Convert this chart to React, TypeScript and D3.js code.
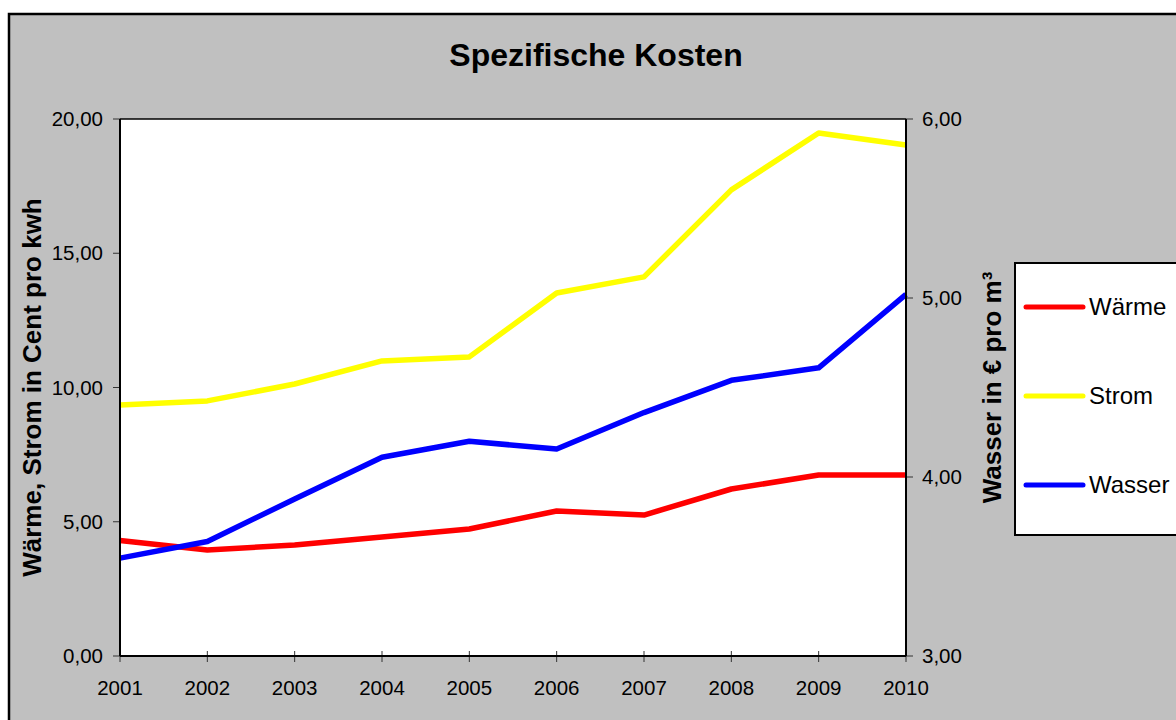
import React from "react";
import * as d3 from "d3";

const years = [2001, 2002, 2003, 2004, 2005, 2006, 2007, 2008, 2009, 2010];
const waerme = [4.3, 3.95, 4.13, 4.43, 4.73, 5.4, 5.25, 6.22, 6.74, 6.74];
const strom = [9.35, 9.5, 10.13, 10.99, 11.14, 13.52, 14.12, 17.36, 19.48, 19.03];
const wasser = [3.547, 3.64, 3.877, 4.11, 4.2, 4.156, 4.36, 4.54, 4.61, 5.02];
const leftTicks = [0, 5, 10, 15, 20];
const rightTicks = [3, 4, 5, 6];
const legendItems = [
  { name: "Wärme", color: "#FF0000" },
  { name: "Strom", color: "#FFFF00" },
  { name: "Wasser", color: "#0000FF" },
];

const W = 1176;
const H = 720;
const PL = 120, PR = 906, PT = 119, PB = 656;
const FONT = "'Liberation Sans', Arial, sans-serif";

const fmt = (v: number) => v.toFixed(2).replace(".", ",");

export default function App() {
  const x = d3.scaleLinear().domain([2001, 2010]).range([PL, PR]);
  const yL = d3.scaleLinear().domain([0, 20]).range([PB, PT]);
  const yR = d3.scaleLinear().domain([3, 6]).range([PB, PT]);
  const lineL = d3.line<number>().x((_, i) => x(years[i])).y((d) => yL(d));
  const lineR = d3.line<number>().x((_, i) => x(years[i])).y((d) => yR(d));
  const series = [
    { d: lineL(waerme), c: "#FF0000" },
    { d: lineL(strom), c: "#FFFF00" },
    { d: lineR(wasser), c: "#0000FF" },
  ];
  const midY = (PT + PB) / 2;
  return (
    <svg
      width={W}
      height={H}
      style={{ position: "absolute", left: 0, top: 0, background: "#fff" }}
      fontFamily={FONT}
    >
      <rect x={9} y={14} width={1300} height={900} fill="#C0C0C0" stroke="#000" strokeWidth={2.5} />
      <text x={596} y={66} textAnchor="middle" fontSize={32} fontWeight="bold" fill="#000">
        Spezifische Kosten
      </text>
      <rect x={PL} y={PT} width={PR - PL} height={PB - PT} fill="#fff" stroke="none" />
      <line x1={PL} x2={PR} y1={PT} y2={PT} stroke="#000" strokeWidth={1.5} />
      {leftTicks.map((t) => (
        <g key={"l" + t}>
          <line x1={PL - 7} x2={PL} y1={yL(t)} y2={yL(t)} stroke="#333" strokeWidth={1} />
          <text x={PL - 17} y={yL(t) + 7} textAnchor="end" fontSize={20.5} fill="#000">
            {fmt(t)}
          </text>
        </g>
      ))}
      {rightTicks.map((t) => (
        <g key={"r" + t}>
          <line x1={PR} x2={PR + 7} y1={yR(t)} y2={yR(t)} stroke="#333" strokeWidth={1} />
          <text x={PR + 16} y={yR(t) + 7} textAnchor="start" fontSize={20.5} fill="#000">
            {fmt(t)}
          </text>
        </g>
      ))}
      {years.map((yv) => (
        <g key={"x" + yv}>
          <line x1={x(yv)} x2={x(yv)} y1={PB - 5} y2={PB + 6} stroke="#333" strokeWidth={1} />
          <text x={x(yv)} y={695} textAnchor="middle" fontSize={20.5} fill="#000">
            {yv}
          </text>
        </g>
      ))}
      {series.map((s, i) => (
        <path key={i} d={s.d || ""} fill="none" stroke={s.c} strokeWidth={5.5} strokeLinejoin="round" />
      ))}
      <line x1={PL} x2={PL} y1={PT} y2={PB} stroke="#000" strokeWidth={2} />
      <line x1={PR} x2={PR} y1={PT} y2={PB} stroke="#000" strokeWidth={2} />
      <line x1={PL} x2={PR} y1={PB} y2={PB} stroke="#000" strokeWidth={2} />
      <text
        transform={`translate(41,${midY}) rotate(-90)`}
        textAnchor="middle"
        fontSize={26}
        fontWeight="bold"
        fill="#000"
      >
        Wärme, Strom in Cent pro kwh
      </text>
      <text
        transform={`translate(1001,${midY}) rotate(-90)`}
        textAnchor="middle"
        fontSize={26}
        fontWeight="bold"
        fill="#000"
      >
        Wasser in € pro m³
      </text>
      <rect x={1015} y={263} width={300} height={272} fill="#fff" stroke="#000" strokeWidth={2} />
      {legendItems.map((it, i) => {
        const ly = 307 + i * 89;
        return (
          <g key={it.name}>
            <line x1={1026} x2={1083} y1={ly} y2={ly} stroke={it.color} strokeWidth={5} strokeLinecap="round" />
            <text x={1089} y={ly + 8} fontSize={24} fill="#000">
              {it.name}
            </text>
          </g>
        );
      })}
    </svg>
  );
}
